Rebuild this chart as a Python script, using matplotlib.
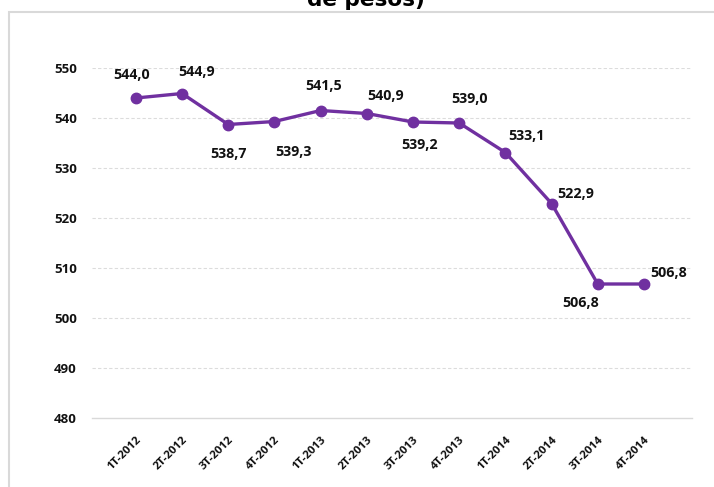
import matplotlib
matplotlib.use("Agg")
import matplotlib.pyplot as plt
import matplotlib.transforms as mtransforms
from matplotlib.patches import Rectangle

categories = ["1T-2012", "2T-2012", "3T-2012", "4T-2012",
              "1T-2013", "2T-2013", "3T-2013", "4T-2013",
              "1T-2014", "2T-2014", "3T-2014", "4T-2014"]
values = [544.0, 544.9, 538.7, 539.3, 541.5, 540.9, 539.2, 539.0,
          533.1, 522.9, 506.8, 506.8]
y_ticks = [480, 490, 500, 510, 520, 530, 540, 550]
title_text = "de pesos)"

# label placement offsets (pixels) -- layout only
label_offsets = [(-4, 23), (14, 21), (0, -29), (19, -30), (3, 25), (19, 17),
                 (7, -23), (10, 24), (21, 16), (24, 9), (-17, -19), (25, 11)]

FONT = ["Open Sans", "DejaVu Sans"]
purple = "#7030A0"
grid_c = "#d9d9d9"

fig = plt.figure(figsize=(7.14, 4.87), dpi=100)
W, H = 714, 487
ax = fig.add_axes([92 / W, 1 - 418 / H, (692 - 92) / W, (418 - 68) / H])

x = list(range(len(categories)))
ax.plot(x, values, color=purple, lw=2.4, marker="o", ms=7.5, zorder=3)

for xi, v, (dx, dy) in zip(x, values, label_offsets):
    ax.annotate(f"{v:.1f}".replace(".", ","), (xi, v), xytext=(dx, dy),
                textcoords="offset pixels", ha="center", va="center",
                fontsize=10.3, fontweight="bold", family=FONT, color="#111111")

ax.set_xlim(-0.95, 12.04)
ax.set_ylim(480, 550)
ax.set_yticks(y_ticks)
ax.set_yticklabels([str(t) for t in y_ticks], family=FONT, fontweight="bold",
                   fontsize=9.5, color="#111111")
ax.set_xticks(x)
ax.set_xticklabels(categories, rotation=45, ha="right", va="top",
                   rotation_mode="anchor", family=FONT, fontweight="bold",
                   fontsize=8.2, color="#111111")
offset = mtransforms.ScaledTranslation(4 / 100, 0, fig.dpi_scale_trans)
for lbl in ax.get_xticklabels():
    lbl.set_transform(lbl.get_transform() + offset)

ax.tick_params(axis="y", length=0, pad=11)
ax.tick_params(axis="x", length=0, pad=12)
for s in ["top", "right", "left"]:
    ax.spines[s].set_visible(False)
ax.spines["bottom"].set_color(grid_c)
ax.spines["bottom"].set_linewidth(1.0)

for t in y_ticks[1:]:
    ax.axhline(t, color="#dcdcdc", lw=0.8, ls=(0, (3, 2)), zorder=1)

# outer chart frame
fig.patches.append(Rectangle((9 / W, -0.1), 1.2, 1 - 12 / H + 0.1,
                             transform=fig.transFigure, fill=False,
                             edgecolor=grid_c, lw=1.5))

fig.text(366 / W, 1 - 6 / H, title_text, ha="center", va="baseline",
         fontsize=15.5, fontweight="bold", family=["DejaVu Sans"], color="#000000")

fig.savefig("out.png", dpi=100)
